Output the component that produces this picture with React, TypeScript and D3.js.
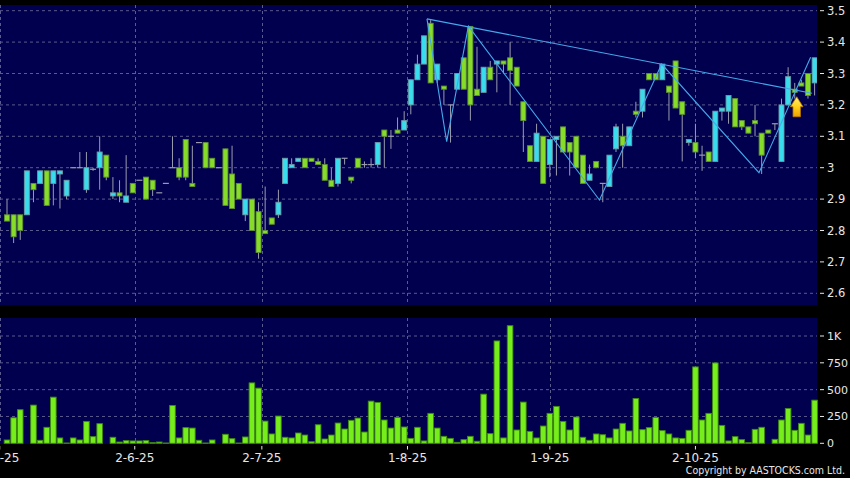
import React from 'react';
import * as d3 from 'd3';

const opens = [2.85,2.85,2.85,2.85,2.95,2.95,2.99,2.95,2.98,2.91,3.00,3.00,2.93,2.995,3.00,3.04,2.91,2.92,2.89,2.95,2.96,2.97,2.96,2.92,2.95,3.00,3.00,3.09,2.95,3.08,3.08,3.03,3.00,3.06,2.98,2.95,2.85,2.90,2.86,2.80,2.84,2.85,2.95,3.00,3.02,3.03,3.03,3.02,3.01,2.96,2.95,3.03,2.97,3.03,3.01,3.01,3.01,3.12,3.10,3.12,3.12,3.20,3.28,3.33,3.46,3.28,3.26,3.20,3.25,3.35,3.45,3.25,3.24,3.32,3.33,3.34,3.35,3.32,3.21,3.07,3.02,3.10,3.01,3.09,3.13,3.08,3.10,3.04,2.96,3.02,2.95,2.94,3.06,3.10,3.07,3.18,3.18,3.30,3.30,3.28,3.26,3.34,3.21,3.08,3.08,3.04,3.05,3.02,3.18,3.18,3.22,3.15,3.13,3.15,3.11,3.12,3.14,3.02,3.20,3.25,3.27,3.30,3.27];
const highs = [2.90,2.85,2.85,2.99,2.95,2.99,2.99,2.99,2.99,2.96,3.00,3.05,3.05,3.00,3.10,3.04,2.97,2.96,3.04,2.95,2.96,2.97,2.96,2.92,2.95,3.10,3.03,3.09,3.07,3.08,3.08,3.03,3.00,3.06,3.07,2.95,2.90,2.90,2.89,2.94,2.84,2.93,3.03,3.03,3.03,3.03,3.03,3.03,3.03,3.00,3.03,3.03,2.97,3.03,3.02,3.03,3.08,3.12,3.12,3.16,3.18,3.28,3.36,3.42,3.47,3.33,3.26,3.20,3.30,3.35,3.45,3.385,3.32,3.34,3.34,3.34,3.40,3.32,3.21,3.07,3.14,3.10,3.09,3.10,3.13,3.08,3.10,3.04,3.01,3.02,2.95,3.04,3.14,3.14,3.13,3.21,3.25,3.30,3.30,3.33,3.26,3.34,3.21,3.09,3.14,3.07,3.05,3.18,3.19,3.23,3.22,3.15,3.13,3.20,3.11,3.12,3.14,3.22,3.32,3.27,3.28,3.30,3.35];
const lows = [2.83,2.76,2.77,2.85,2.89,2.95,2.88,2.88,2.87,2.90,3.00,3.00,2.92,2.99,2.93,2.96,2.90,2.89,2.89,2.92,2.96,2.90,2.91,2.92,2.95,3.00,2.96,2.96,2.94,3.08,3.00,3.00,3.00,2.88,2.87,2.90,2.83,2.80,2.71,2.79,2.82,2.84,2.95,3.00,3.02,3.00,3.02,3.01,2.96,2.94,2.94,3.01,2.95,3.00,3.00,3.00,3.00,3.00,3.06,3.11,3.12,3.17,3.28,3.33,3.27,3.27,3.20,3.08,3.25,3.25,3.15,3.23,3.24,3.28,3.24,3.30,3.20,3.26,3.05,3.02,3.02,2.95,2.97,2.975,3.05,2.975,3.00,2.95,2.96,3.00,2.89,2.94,3.05,3.00,3.07,3.16,3.16,3.28,3.28,3.28,3.15,3.19,3.02,3.07,3.03,2.99,3.02,3.02,3.15,3.14,3.13,3.12,3.11,3.10,2.98,3.11,3.12,3.02,3.20,3.22,3.26,3.22,3.23];
const closes = [2.83,2.78,2.80,2.99,2.93,2.99,2.88,2.99,2.99,2.96,3.00,3.00,3.00,2.995,3.05,2.97,2.92,2.91,2.91,2.92,2.96,2.90,2.93,2.92,2.95,3.00,2.97,2.97,2.94,3.08,3.00,3.00,3.00,2.88,2.87,2.90,2.90,2.80,2.73,2.79,2.82,2.89,3.03,3.01,3.03,3.00,3.02,3.01,2.96,2.94,3.03,3.03,2.96,3.00,3.01,3.01,3.08,3.10,3.10,3.11,3.15,3.28,3.33,3.42,3.27,3.33,3.25,3.20,3.30,3.25,3.20,3.23,3.32,3.28,3.34,3.33,3.31,3.26,3.15,3.02,3.11,2.95,3.09,3.10,3.05,3.05,3.00,2.95,2.98,3.00,2.95,3.04,3.13,3.07,3.13,3.17,3.25,3.28,3.28,3.33,3.24,3.19,3.17,3.09,3.05,3.04,3.02,3.18,3.19,3.23,3.13,3.13,3.11,3.14,3.04,3.11,3.14,3.20,3.29,3.24,3.26,3.23,3.35];
const volumes = [31,238,313,0,356,28,149,430,50,3,50,31,204,62,183,0,56,12,25,22,22,25,6,12,3,353,50,146,142,28,3,31,0,84,43,3,59,563,514,207,87,254,56,50,96,77,15,173,40,77,189,133,214,235,105,393,381,217,142,241,152,46,149,22,279,142,65,46,9,34,65,19,458,90,954,50,1096,124,384,111,50,161,279,344,204,124,245,56,28,87,80,50,133,186,115,418,127,146,241,118,87,50,46,121,712,217,279,749,167,22,62,34,6,130,149,0,37,217,325,121,186,77,402];

const priceTicks = [3.5, 3.4, 3.3, 3.2, 3.1, 3.0, 2.9, 2.8, 2.7, 2.6];
const priceTickLabels = ['3.5', '3.4', '3.3', '3.2', '3.1', '3', '2.9', '2.8', '2.7', '2.6'];
const volumeTicks = [0, 250, 500, 750, 1000];
const volumeTickLabels = ['0', '250', '500', '750', '1K'];
const dateTickLabels = ['2-5-25', '2-6-25', '2-7-25', '1-8-25', '1-9-25', '2-10-25'];
const dateTickIndex = [-1.1, 19.3, 38.5, 60.5, 82, 104];

const zigzagIndex = [63.44, 66.42, 69.7, 89.5, 98.9, 113.6, 121.4];
const zigzagPrice = [3.474, 3.083, 3.451, 2.897, 3.33, 2.984, 3.352];
const trendIndex = [63.44, 121.6];
const trendPrice = [3.474, 3.237];
const signalIndex = 119.3;
const signalPrice = 3.226;

const W = 850, H = 478;
const panelRight = 817;
const priceTop = 5, priceBottom = 305;
const volTop = 318, volBottom = 444;

const NAVY = '#00004e';
const GRID = '#5a5a8c';
const CYAN = '#38dcec';
const CYAN_STROKE = '#6d9aa6';
const GREEN = '#86dc28';
const GREEN_STROKE = '#5d8f35';
const WICK = '#9a9aae';
const VOL = '#76ee1c';
const VOL_STROKE = '#3f8a12';
const LINE = '#45a8ea';
const TEXT = '#e6e6e6';
const FONT = 'DejaVu Sans, Verdana, sans-serif';

export default function App() {
  const x = d3.scaleLinear().domain([0, 122]).range([7, 814.6]);
  const y = d3.scaleLinear().domain([2.6, 3.5]).range([293.3, 10.7]);
  const yv = d3.scaleLinear().domain([0, 1000]).range([443.3, 336]);
  const bw = 5.0;

  const line = d3.line<[number, number]>().x(d => x(d[0])).y(d => y(d[1]));
  const zig = line(zigzagIndex.map((v, i) => [v, zigzagPrice[i]] as [number, number])) || '';
  const trend = line(trendIndex.map((v, i) => [v, trendPrice[i]] as [number, number])) || '';

  const ax = x(signalIndex), ay = y(signalPrice);
  const arrowPts = [[0, 0], [6.3, 10], [3.7, 10], [3.7, 20], [-3.7, 20], [-3.7, 10], [-6.3, 10]]
    .map(p => `${ax + p[0]},${ay + p[1]}`).join(' ');

  return (
    <svg width={W} height={H} style={{ position: 'absolute', left: 0, top: 0, display: 'block' }}>
      <defs>
        <linearGradient id="arrowGrad" x1="0" y1="0" x2="0" y2="1">
          <stop offset="0" stopColor="#fff27a" />
          <stop offset="0.5" stopColor="#ffd21a" />
          <stop offset="1" stopColor="#f0a000" />
        </linearGradient>
        <clipPath id="priceClip"><rect x={0} y={priceTop} width={panelRight} height={priceBottom - priceTop} /></clipPath>
      </defs>
      <rect x={0} y={0} width={W} height={H} fill="#000000" />
      <rect x={0} y={priceTop} width={panelRight} height={priceBottom - priceTop} fill={NAVY} />
      <rect x={0} y={volTop} width={panelRight} height={volBottom - volTop} fill={NAVY} />

      {priceTicks.map((p, i) => (
        <line key={'pg' + i} x1={0} x2={panelRight} y1={y(p)} y2={y(p)} stroke={GRID} strokeWidth={1} strokeDasharray="3,3" />
      ))}
      {volumeTicks.slice(1).map((v, i) => (
        <line key={'vg' + i} x1={0} x2={panelRight} y1={yv(v)} y2={yv(v)} stroke={GRID} strokeWidth={1} strokeDasharray="3,3" />
      ))}
      {dateTickIndex.map((d, i) => (
        <g key={'dg' + i}>
          <line x1={Math.round(x(d)) + 0.5} x2={Math.round(x(d)) + 0.5} y1={priceTop} y2={priceBottom} stroke={GRID} strokeWidth={1} strokeDasharray="3,3" />
          <line x1={Math.round(x(d)) + 0.5} x2={Math.round(x(d)) + 0.5} y1={volTop} y2={volBottom} stroke={GRID} strokeWidth={1} strokeDasharray="3,3" />
        </g>
      ))}

      <g clipPath="url(#priceClip)">
        {opens.map((o, i) => {
          const c = closes[i];
          const cx = x(i);
          const top = y(Math.max(o, c));
          const bot = y(Math.min(o, c));
          const wick = (
            <line x1={cx} x2={cx} y1={y(highs[i])} y2={y(lows[i])} stroke={WICK} strokeWidth={1} />
          );
          if (o === c) {
            return (
              <g key={'c' + i}>
                {wick}
                <line x1={cx - bw / 2 - 0.5} x2={cx + bw / 2 + 0.5} y1={top} y2={top} stroke={WICK} strokeWidth={1.2} />
              </g>
            );
          }
          const up = c > o;
          return (
            <g key={'c' + i}>
              {wick}
              <rect x={cx - bw / 2} y={top} width={bw} height={Math.max(1, bot - top)}
                fill={up ? CYAN : GREEN} stroke={up ? CYAN_STROKE : GREEN_STROKE} strokeWidth={0.9} />
            </g>
          );
        })}
        <path d={trend} fill="none" stroke={LINE} strokeWidth={1.1} />
        <path d={zig} fill="none" stroke={LINE} strokeWidth={1.1} />
        <polygon points={arrowPts} fill="url(#arrowGrad)" stroke="#b87800" strokeWidth={0.8} />
      </g>

      {volumes.map((v, i) => v > 0 ? (
        <rect key={'v' + i} x={x(i) - 2.8} y={yv(v)} width={5.6} height={yv(0) - yv(v)}
          fill={VOL} stroke={VOL_STROKE} strokeWidth={0.9} />
      ) : null)}

      {priceTicks.map((p, i) => (
        <g key={'pt' + i}>
          <line x1={820} x2={824} y1={y(p)} y2={y(p)} stroke={TEXT} strokeWidth={1} />
          <text x={827} y={y(p)} dy="0.36em" fill={TEXT} fontFamily={FONT} fontSize={11.5}>{priceTickLabels[i]}</text>
        </g>
      ))}
      {volumeTicks.map((v, i) => (
        <g key={'vt' + i}>
          <line x1={820} x2={824} y1={yv(v)} y2={yv(v)} stroke={TEXT} strokeWidth={1} />
          <text x={827} y={yv(v)} dy="0.36em" fill={TEXT} fontFamily={FONT} fontSize={11}>{volumeTickLabels[i]}</text>
        </g>
      ))}

      {dateTickIndex.map((d, i) => (
        <g key={'dt' + i}>
          <line x1={x(d)} x2={x(d)} y1={446} y2={449.5} stroke={TEXT} strokeWidth={1} />
          <text x={x(d)} y={462} textAnchor="middle" fill={TEXT} fontFamily={FONT} fontSize={12}>{dateTickLabels[i]}</text>
        </g>
      ))}

      <text transform="translate(845,474) scale(0.86,1)" x={0} y={0} textAnchor="end" fill={TEXT}
        fontFamily={FONT} fontSize={11}>Copyright by AASTOCKS.com Ltd.</text>
    </svg>
  );
}
